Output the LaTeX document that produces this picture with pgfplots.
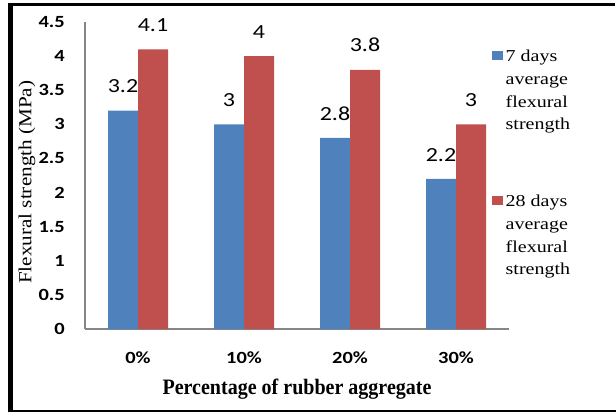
\documentclass[border=0pt]{standalone}
\usepackage{fontspec}
\setmainfont{Liberation Serif}
\newfontfamily\tickfont{Carlito}[FakeStretch=1.2]
\newfontfamily\datafont{Carlito}[FakeStretch=1.2]
\newfontfamily\legfont{Liberation Serif}[FakeStretch=1.2]
\newfontfamily\xlabfont{Liberation Serif}[FakeStretch=0.91]
\newfontfamily\ylabfont{Liberation Serif}[FakeStretch=1.15]
\usepackage{pgfplots}
\pgfplotsset{compat=1.18}
\definecolor{barblue}{HTML}{4F81BD}
\definecolor{barred}{HTML}{C0504D}
\definecolor{axgray}{HTML}{868686}

\begin{document}
\begin{tikzpicture}
\useasboundingbox (0,0) rectangle (462pt,309pt);
% outer frame
\draw[line width=1.9pt] (6pt,305.8pt) -- (461.25pt,305.8pt);
\draw[line width=1.5pt] (6pt,0.75pt) -- (462pt,0.75pt);
\draw[line width=3.75pt] (7.9pt,0pt) -- (7.9pt,306.7pt);
\begin{axis}[
  at={(63.75pt,62.25pt)}, anchor=south west,
  scale only axis, width=318pt, height=230.25pt,
  ybar=0pt, bar width=22.5pt,
  xmin=-0.5, xmax=3.5, ymin=0, ymax=4.5,
  xtick={0,1,2,3}, xticklabels={0\%,10\%,20\%,30\%},
  ytick={0,0.5,1,1.5,2,2.5,3,3.5,4,4.5},
  major tick length=0pt,
  axis x line*=bottom, axis y line*=left,
  axis line style={draw=axgray, line width=1.5pt, -},
  tick label style={font=\tickfont\bfseries\fontsize{12.8}{14}\selectfont, /pgf/number format/assume math mode=true},
  yticklabel style={anchor=east, inner sep=0pt, xshift=-15pt},
  xticklabel style={anchor=base, inner sep=0pt, yshift=-25.5pt},
  xlabel={\xlabfont\bfseries\fontsize{16.5}{18}\selectfont Percentage of rubber aggregate},
  xlabel style={at={(axis description cs:0.5,-0.2117)}, anchor=base, inner sep=0pt},
  ylabel={\ylabfont\fontsize{13.8}{15}\selectfont Flexural strength (MPa)},
  ylabel style={at={(axis description cs:-0.1368,0.478)}, anchor=center, inner sep=0pt},
  nodes near coords,
  every node near coord/.append style={font=\datafont\fontsize{15}{17}\selectfont, anchor=base, yshift=13.4pt, inner sep=0pt, text=black, /pgf/number format/assume math mode=true},
  legend image code/.code={\path (0pt,0pt); \fill[#1] (0pt,1.3pt) rectangle (8.25pt,8.3pt);},
  legend style={draw=none, fill=none, inner sep=0pt, outer sep=0pt,
    at={(axis description cs:0.96,0.9225)}, anchor=north west,
    font=\legfont\fontsize{12.5}{17}\selectfont,
    nodes={inner sep=0pt, text depth=}, cells={anchor=base west},
    column sep=2pt, row sep=40.75pt},
]
\addplot[fill=barblue, draw=none] coordinates {(0,3.2) (1,3) (2,2.8) (3,2.2)};
\addlegendentry{\begin{tabular}[t]{@{}l@{}}7 days\\average\\flexural\\strength\end{tabular}}
\addplot[fill=barred, draw=none] coordinates {(0,4.1) (1,4) (2,3.8) (3,3)};
\addlegendentry{\begin{tabular}[t]{@{}l@{}}28 days\\average\\flexural\\strength\end{tabular}}
\end{axis}
\end{tikzpicture}
\end{document}
